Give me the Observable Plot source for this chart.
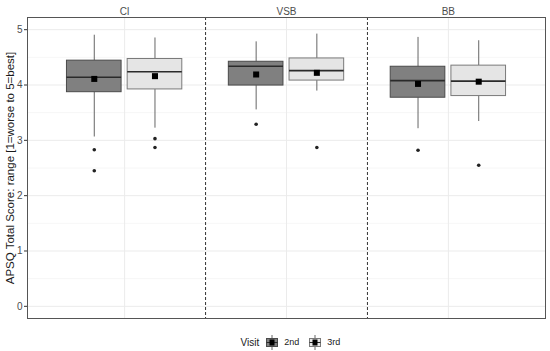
<!DOCTYPE html>
<html>
<head>
<meta charset="utf-8">
<script src="https://cdn.jsdelivr.net/npm/d3@7"></script>
<script src="https://cdn.jsdelivr.net/npm/@observablehq/plot@0.6"></script>
<style>
  body { margin: 0; background: #fff; font-family: "Liberation Sans", Arial, sans-serif; }
  #legend { height: 28px; display: flex; align-items: center; justify-content: center; font-size: 9px; color: #1a1a1a; padding-left: 31px; }
  #legend .item { display: flex; align-items: center; }
  #legend svg { display: block; }
</style>
</head>
<body>
<div id="chart"></div>
<div id="legend"></div>
<script>
const groups = ["CI", "VSB", "BB"];
const visits = ["2nd", "3rd"];
const rowGroup = ["CI", "CI", "VSB", "VSB", "BB", "BB"];
const rowVisit = ["2nd", "3rd", "2nd", "3rd", "2nd", "3rd"];
const whiskLo = [3.06, 3.22, 3.55, 3.89, 3.21, 3.34];
const q1      = [3.87, 3.92, 3.99, 4.08, 3.77, 3.80];
const median  = [4.14, 4.24, 4.34, 4.26, 4.08, 4.07];
const q3      = [4.44, 4.47, 4.42, 4.48, 4.33, 4.35];
const whiskHi = [4.90, 4.85, 4.78, 4.92, 4.86, 4.80];
const means   = [4.11, 4.16, 4.19, 4.22, 4.02, 4.06];
const outGroup = ["CI", "CI", "CI", "CI", "VSB", "VSB", "BB", "BB"];
const outVisit = ["2nd", "2nd", "3rd", "3rd", "2nd", "3rd", "2nd", "3rd"];
const outValue = [2.83, 2.45, 3.03, 2.87, 3.29, 2.87, 2.82, 2.55];
const yTicks = [0, 1, 2, 3, 4, 5];
const yMinor = [0.5, 1.5, 2.5, 3.5, 4.5];
const yLabel = "APSQ Total Score: range [1=worse to 5=best]";
const fills = {"2nd": "#808080", "3rd": "#e5e5e5"};
const strokes = {"2nd": "#4a4a4a", "3rd": "#7a7a7a"};

const dodge = 0.75, boxW = 0.75 / 2 * 0.9;
const xpos = (g, v) => groups.indexOf(g) + 1 + (visits.indexOf(v) - 0.5) * dodge / 2;

const rows = rowGroup.map((g, i) => ({
  g, v: rowVisit[i], lo: whiskLo[i], q1: q1[i], med: median[i], q3: q3[i], hi: whiskHi[i], mean: means[i]
}));
const outs = outGroup.map((g, i) => ({g, v: outVisit[i], y: outValue[i]}));
const seps = groups.slice(1).map((g, i) => i + 1.5);

const chart = Plot.plot({
  width: 550,
  height: 328,
  marginLeft: 27,
  marginRight: 5,
  marginTop: 17,
  marginBottom: 10,
  style: {fontFamily: "Liberation Sans, Arial, sans-serif", fontSize: "10px", background: "#fff"},
  x: {domain: [0.4, 3.6]},
  y: {domain: [-0.22, 5.22]},
  marks: [
    Plot.ruleY(yMinor, {stroke: "#f4f4f4", strokeWidth: 0.8}),
    Plot.ruleY(yTicks, {stroke: "#ebebeb", strokeWidth: 1}),
    Plot.ruleX([1, 2, 3], {stroke: "#ebebeb", strokeWidth: 1}),
    Plot.ruleX(seps, {stroke: "#333", strokeDasharray: "3,2", strokeWidth: 1}),
    Plot.ruleX(rows, {x: d => xpos(d.g, d.v), y1: "lo", y2: "q1", stroke: "#666", strokeWidth: 1}),
    Plot.ruleX(rows, {x: d => xpos(d.g, d.v), y1: "q3", y2: "hi", stroke: "#666", strokeWidth: 1}),
    Plot.rect(rows, {
      x1: d => xpos(d.g, d.v) - boxW / 2, x2: d => xpos(d.g, d.v) + boxW / 2,
      y1: "q1", y2: "q3",
      fill: d => fills[d.v], stroke: d => strokes[d.v], strokeWidth: 1
    }),
    Plot.ruleY(rows, {
      x1: d => xpos(d.g, d.v) - boxW / 2, x2: d => xpos(d.g, d.v) + boxW / 2,
      y: "med", stroke: "#2a2a2a", strokeWidth: 1.6
    }),
    Plot.dot(rows, {x: d => xpos(d.g, d.v), y: "mean", symbol: "square", r: 3.4, fill: "#000", stroke: "none"}),
    Plot.dot(outs, {x: d => xpos(d.g, d.v), y: "y", r: 1.8, fill: "#222", stroke: "none"}),
    Plot.axisY({ticks: yTicks, tickFormat: d3.format("d"), tickSize: 3, tickPadding: 2, stroke: "#333",
      fill: "#4d4d4d", fontSize: 10, label: null}),
    Plot.text([yLabel], {frameAnchor: "left", textAnchor: "middle", rotate: -90, dx: -17, text: d => d,
      fill: "#1a1a1a", fontSize: 11.5}),
    Plot.axisX({anchor: "top", ticks: [1, 2, 3], tickFormat: d => groups[d - 1], tickSize: 0, tickPadding: 3,
      fill: "#4d4d4d", fontSize: 10, label: null}),
    Plot.frame({stroke: "#555", strokeWidth: 1})
  ]
});
document.getElementById("chart").append(chart);

// legend
const leg = document.getElementById("legend");
const title = document.createElement("span");
title.textContent = "Visit";
title.style.fontSize = "10px";
title.style.marginRight = "6px";
leg.append(title);
visits.forEach((v, i) => {
  const item = document.createElement("span");
  item.className = "item";
  if (i > 0) item.style.marginLeft = "9px";
  const s = d3.create("svg").attr("width", 14).attr("height", 17);
  s.append("line").attr("x1", 7).attr("x2", 7).attr("y1", 1).attr("y2", 16).attr("stroke", "#666");
  s.append("rect").attr("x", 1.5).attr("y", 4.5).attr("width", 11).attr("height", 8)
    .attr("fill", fills[v]).attr("stroke", strokes[v]);
  s.append("line").attr("x1", 1.5).attr("x2", 12.5).attr("y1", 8.5).attr("y2", 8.5).attr("stroke", "#2a2a2a");
  s.append("rect").attr("x", 4.5).attr("y", 5.5).attr("width", 5).attr("height", 6).attr("fill", "#000");
  item.append(s.node());
  const lab = document.createElement("span");
  lab.textContent = v;
  lab.style.fontSize = "9px";
  lab.style.marginLeft = "5px";
  item.append(lab);
  leg.append(item);
});
</script>
</body>
</html>
